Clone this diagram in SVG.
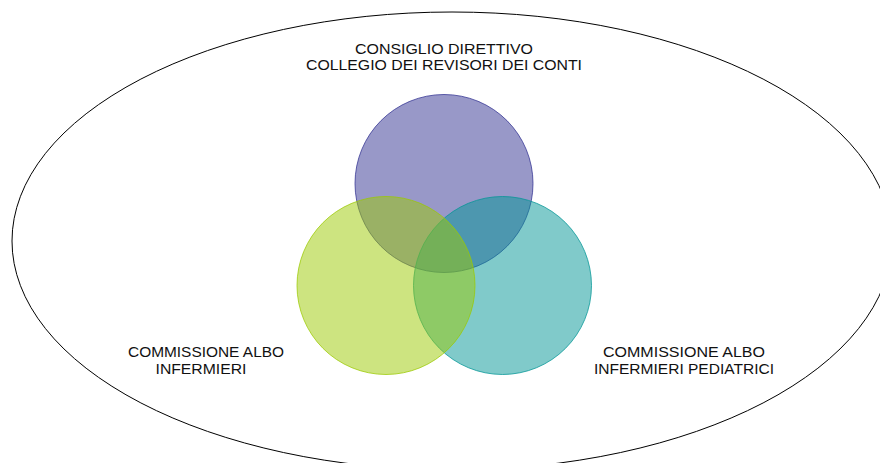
<svg xmlns="http://www.w3.org/2000/svg" width="880" height="463" viewBox="0 0 880 463">
  <style>
    .lbl { font-family: "Liberation Sans", Arial, sans-serif; font-size: 15.5px; fill: #111; text-anchor: middle; }
    .c { stroke-width: 1; fill-opacity: 0.5; stroke-opacity: 0.75; }
  </style>
  <rect width="880" height="463" fill="#fff"/>
  <g id="outer">
    <ellipse cx="452" cy="241" rx="440" ry="229" fill="none" stroke="#000" stroke-width="1"/>
  </g>
  <g id="consiglio">
    <circle class="c" cx="444" cy="183.5" r="89" fill="#313191" stroke="#313191"/>
    <text class="lbl" x="444" y="54" textLength="178" lengthAdjust="spacingAndGlyphs">CONSIGLIO DIRETTIVO</text>
    <text class="lbl" x="444" y="70" textLength="276" lengthAdjust="spacingAndGlyphs">COLLEGIO DEI REVISORI DEI CONTI</text>
  </g>
  <g id="pediatrici">
    <circle class="c" cx="502.5" cy="285.5" r="89" fill="#019595" stroke="#019595"/>
    <text class="lbl" x="684" y="357" textLength="162" lengthAdjust="spacingAndGlyphs">COMMISSIONE ALBO</text>
    <text class="lbl" x="684" y="374" textLength="180" lengthAdjust="spacingAndGlyphs">INFERMIERI PEDIATRICI</text>
  </g>
  <g id="infermieri">
    <circle class="c" cx="386" cy="285.5" r="89" fill="#9BC901" stroke="#9BC901"/>
    <text class="lbl" x="206" y="357" textLength="156" lengthAdjust="spacingAndGlyphs">COMMISSIONE ALBO</text>
    <text class="lbl" x="201" y="374" textLength="91" lengthAdjust="spacingAndGlyphs">INFERMIERI</text>
  </g>
  <g id="connectors"></g>
</svg>
